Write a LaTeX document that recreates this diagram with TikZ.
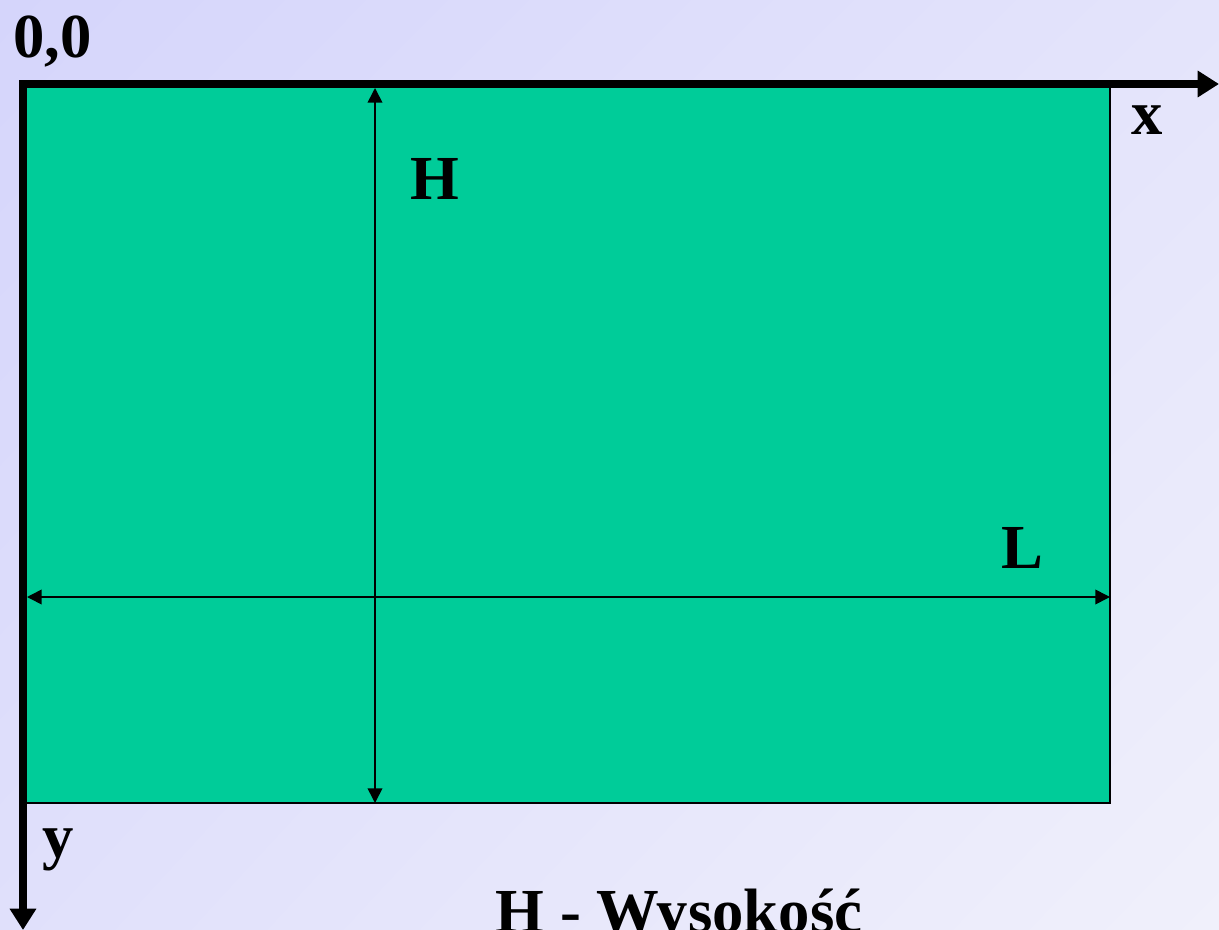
\documentclass[tikz,border=0pt]{standalone}
\usepackage{fontspec}
\setmainfont{Liberation Serif}
\usetikzlibrary{arrows.meta,shadings}
\definecolor{bgTL}{RGB}{213,213,251}
\definecolor{bgTR}{RGB}{228,228,251}
\definecolor{bgBL}{RGB}{224,224,251}
\definecolor{bgBR}{RGB}{240,240,251}
\definecolor{plate}{RGB}{0,204,153}
\tikzset{
  lbl/.style={inner sep=0pt, anchor=base west, font=\fontsize{47}{52}\selectfont\bfseries},
  axis/.style={line width=5.5pt, line join=miter},
  dim/.style={line width=1.2pt, {Triangle[length=11pt,width=11pt]}-{Triangle[length=11pt,width=11pt]}},
}
\begin{document}
\begin{tikzpicture}[x=0.75pt,y=-0.75pt]
\useasboundingbox (0,0) rectangle (1219,930);
\clip (0,0) rectangle (1219,930);
\shade[upper left=bgTL, upper right=bgTR, lower left=bgBL, lower right=bgBR] (0,0) rectangle (1219,930);
% plate
\draw[fill=plate, draw=black, line width=1.2pt] (22,85) rectangle (1110,803);
% coordinates
\coordinate (O) at (23,84);
\coordinate (X) at (1219,84);
\coordinate (Y) at (23,930);
\coordinate (Htop) at (375,88);
\coordinate (Hbot) at (375,803);
\coordinate (Lleft) at (27,597);
\coordinate (Lright) at (1110,597);
% dimension arrows
\draw[dim] (Htop) -- (Hbot);
\draw[dim] (Lleft) -- (Lright);
% axes
\draw[axis, {Triangle[length=16pt,width=19pt]}-{Triangle[length=16pt,width=19pt]}] (X) -- (O) -- (Y);
% labels
\node[lbl] (origin) at (13,58) {0,0};
\node[lbl] (xl) at (1131,135) {x};
\node[lbl] (yl) at (42,857) {y};
\node[lbl] (hl) at (410,200) {H};
\node[lbl] (ll) at (1001,568) {L};
\node[lbl, anchor=base] (cap) at (679,932) {H - Wysokość};
\end{tikzpicture}
\end{document}
